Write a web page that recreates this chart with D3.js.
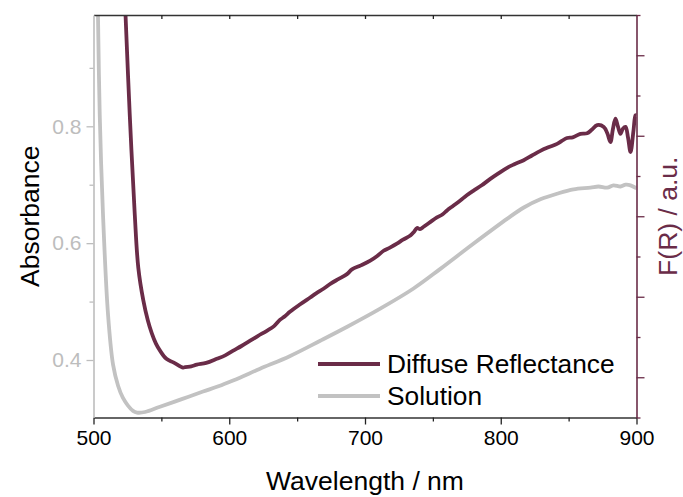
<!DOCTYPE html>
<html>
<head>
<meta charset="utf-8">
<script src="https://cdn.jsdelivr.net/npm/d3@7"></script>
<style>
  html, body { margin: 0; padding: 0; background: #fff; }
  svg text { font-family: "Liberation Sans", Arial, sans-serif; }
</style>
</head>
<body>
<svg id="chart" width="683" height="497"></svg>
<script>
// ---- Data ----
const diffuseWl = [523.6, 526.7, 530.4, 533.0, 536.7, 540.0, 542.9, 546.0, 549.0, 553.7, 558.8, 566.0, 567.5, 572.0, 576.1, 583.0, 590.8, 597.0, 602.9, 609.0, 615.4, 621.0, 627.7, 633.0, 637.5, 641.0, 644.9, 652.0, 659.6, 664.0, 669.4, 675.0, 680.0, 686.7, 690.4, 697.0, 703.9, 709.0, 713.7, 718.0, 723.5, 728.0, 733.4, 736.0, 738.3, 740.5, 743.2, 748.0, 753.0, 757.0, 760.4, 765.0, 770.2, 775.0, 780.0, 786.0, 792.3, 798.0, 804.7, 810.0, 816.9, 823.0, 829.2, 835.0, 841.5, 845.0, 848.9, 853.0, 858.7, 863.6, 867.0, 871.0, 875.9, 878.5, 880.8, 882.6, 884.5, 886.3, 888.2, 890.0, 891.9, 893.8, 895.6, 897.8, 899.3, 900.0];
const diffuseAbs = [0.990, 0.820, 0.649, 0.558, 0.502, 0.468, 0.446, 0.428, 0.416, 0.402, 0.396, 0.387, 0.388, 0.389, 0.392, 0.395, 0.402, 0.408, 0.416, 0.424, 0.433, 0.441, 0.450, 0.458, 0.469, 0.475, 0.483, 0.495, 0.507, 0.514, 0.522, 0.531, 0.538, 0.547, 0.555, 0.562, 0.570, 0.578, 0.587, 0.592, 0.599, 0.606, 0.613, 0.619, 0.626, 0.624, 0.628, 0.636, 0.644, 0.649, 0.656, 0.664, 0.673, 0.682, 0.690, 0.699, 0.710, 0.719, 0.729, 0.735, 0.742, 0.750, 0.758, 0.764, 0.770, 0.775, 0.780, 0.781, 0.787, 0.788, 0.794, 0.802, 0.799, 0.788, 0.773, 0.795, 0.813, 0.800, 0.787, 0.796, 0.799, 0.780, 0.756, 0.793, 0.819, 0.819];

const solutionWl = [503.3, 504.6, 507.0, 510.7, 514.4, 518.1, 521.7, 525.4, 529.1, 532.1, 538.0, 549.0, 565.0, 580.7, 592.0, 602.8, 622.7, 644.9, 667.0, 686.9, 711.2, 735.5, 755.5, 779.8, 804.9, 817.0, 829.2, 842.0, 853.6, 866.1, 872.0, 878.4, 883.0, 888.2, 892.0, 895.6, 900.0];
const solutionAbs = [0.990, 0.819, 0.649, 0.478, 0.392, 0.356, 0.335, 0.322, 0.313, 0.310, 0.311, 0.320, 0.333, 0.346, 0.355, 0.365, 0.385, 0.407, 0.433, 0.457, 0.488, 0.522, 0.556, 0.599, 0.642, 0.661, 0.675, 0.685, 0.692, 0.695, 0.697, 0.695, 0.699, 0.697, 0.700, 0.699, 0.694];

const xTicks = [500, 600, 700, 800, 900];
const yTicks = [0.4, 0.6, 0.8];
const seriesNames = ["Diffuse Reflectance", "Solution"];

// ---- Styles ----
const maroon = "#6a2c48";
const grey = "#c2c2c2";
const axisGrey = "#bdbdbd";

const svg = d3.select("#chart");
const pL = 93.5, pR = 636.5, pT = 15, pB = 417.5;

const x = d3.scaleLinear().domain([500, 900]).range([pL, pR]);
const y = d3.scaleLinear().domain([0.3016, 0.9905]).range([pB, pT]);
const yR = d3.scaleLinear().domain([0, 10]).range([pB, pT]);

svg.append("clipPath").attr("id", "clip")
  .append("rect").attr("x", pL).attr("y", pT).attr("width", pR - pL).attr("height", pB - pT);

const lineGen = d3.line().x(d => x(d[0])).y(d => y(d[1])).curve(d3.curveCatmullRom);
const plot = svg.append("g").attr("clip-path", "url(#clip)");
plot.append("path")
  .datum(solutionWl.map((w, i) => [w, solutionAbs[i]]))
  .attr("fill", "none").attr("stroke", grey).attr("stroke-width", 3.8)
  .attr("stroke-linejoin", "round").attr("d", lineGen);
plot.append("path")
  .datum(diffuseWl.map((w, i) => [w, diffuseAbs[i]]))
  .attr("fill", "none").attr("stroke", maroon).attr("stroke-width", 3.8)
  .attr("stroke-linejoin", "round").attr("d", lineGen);

// Bottom axis
const xMinor = d3.range(550, 900, 100);
const gB = svg.append("g").attr("transform", `translate(0,${pB})`);
gB.call(d3.axisBottom(x).tickValues(xTicks).tickSize(7).tickSizeOuter(0).tickFormat(d3.format("d")));
gB.selectAll(".tick line").attr("stroke", "#222").attr("stroke-width", 1.3);
gB.select(".domain").attr("stroke", "#333").attr("stroke-width", 1.6);
gB.selectAll(".tick text").attr("fill", "#000").attr("font-size", 21).attr("dy", "0.85em")
  .attr("font-family", "Liberation Sans, Arial, sans-serif");
const gBm = svg.append("g").attr("transform", `translate(0,${pB})`);
gBm.call(d3.axisBottom(x).tickValues(xMinor).tickSize(4).tickFormat(""));
gBm.select(".domain").remove();
gBm.selectAll(".tick line").attr("stroke", "#222").attr("stroke-width", 1.3);

// Top axis (inward ticks)
const gT = svg.append("g").attr("transform", `translate(0,${pT})`);
gT.call(d3.axisBottom(x).tickValues(d3.range(550, 900, 50)).tickSize(4).tickSizeOuter(0).tickFormat(""));
gT.select(".domain").attr("stroke", "#333").attr("stroke-width", 1.6);
gT.selectAll(".tick line").attr("stroke", "#222").attr("stroke-width", 1.3);

// Left axis (grey)
const gL = svg.append("g").attr("transform", `translate(${pL},0)`);
gL.call(d3.axisLeft(y).tickValues(yTicks).tickSize(7).tickSizeOuter(0).tickFormat(d3.format(".1f")));
gL.select(".domain").attr("stroke", axisGrey).attr("stroke-width", 1.6);
gL.selectAll(".tick line").attr("stroke", axisGrey).attr("stroke-width", 1.3);
gL.selectAll(".tick text").attr("fill", axisGrey).attr("font-size", 21).attr("x", -12)
  .attr("font-family", "Liberation Sans, Arial, sans-serif");
const gLm = svg.append("g").attr("transform", `translate(${pL},0)`);
gLm.call(d3.axisLeft(y).tickValues([0.5, 0.7, 0.9]).tickSize(4).tickFormat(""));
gLm.select(".domain").remove();
gLm.selectAll(".tick line").attr("stroke", axisGrey).attr("stroke-width", 1.3);

// Right axis (maroon, no labels)
const gR = svg.append("g").attr("transform", `translate(${pR},0)`);
gR.call(d3.axisRight(yR).tickValues([1, 3, 5, 7, 9]).tickSize(8).tickSizeOuter(0).tickFormat(""));
gR.select(".domain").attr("stroke", maroon).attr("stroke-width", 1.6);
gR.selectAll(".tick line").attr("stroke", maroon).attr("stroke-width", 1.3);
const gRm = svg.append("g").attr("transform", `translate(${pR},0)`);
gRm.call(d3.axisRight(yR).tickValues([0, 2, 4, 6, 8, 10]).tickSize(4).tickFormat(""));
gRm.select(".domain").remove();
gRm.selectAll(".tick line").attr("stroke", maroon).attr("stroke-width", 1.3);

// Axis titles
svg.append("text").attr("x", (pL + pR) / 2).attr("y", 490).attr("text-anchor", "middle")
  .attr("font-size", 26.5).attr("fill", "#000").text("Wavelength / nm");
svg.append("text").attr("transform", `translate(39,${(pT + pB) / 2}) rotate(-90)`)
  .attr("text-anchor", "middle").attr("font-size", 26.5).attr("fill", "#000").text("Absorbance");
svg.append("text").attr("transform", `translate(677,${(pT + pB) / 2}) rotate(-90)`)
  .attr("text-anchor", "middle").attr("font-size", 26.5).attr("fill", maroon).text("F(R) / a.u.");

// Legend
const legend = svg.append("g");
const legColors = [maroon, grey];
seriesNames.forEach((name, i) => {
  const ly = 364 + i * 32;
  legend.append("line").attr("x1", 318).attr("x2", 380).attr("y1", ly).attr("y2", ly)
    .attr("stroke", legColors[i]).attr("stroke-width", 3.8);
  legend.append("text").attr("x", 387).attr("y", ly).attr("dy", "0.35em")
    .attr("font-size", 26.3).attr("fill", "#000").text(name);
});
</script>
</body>
</html>
